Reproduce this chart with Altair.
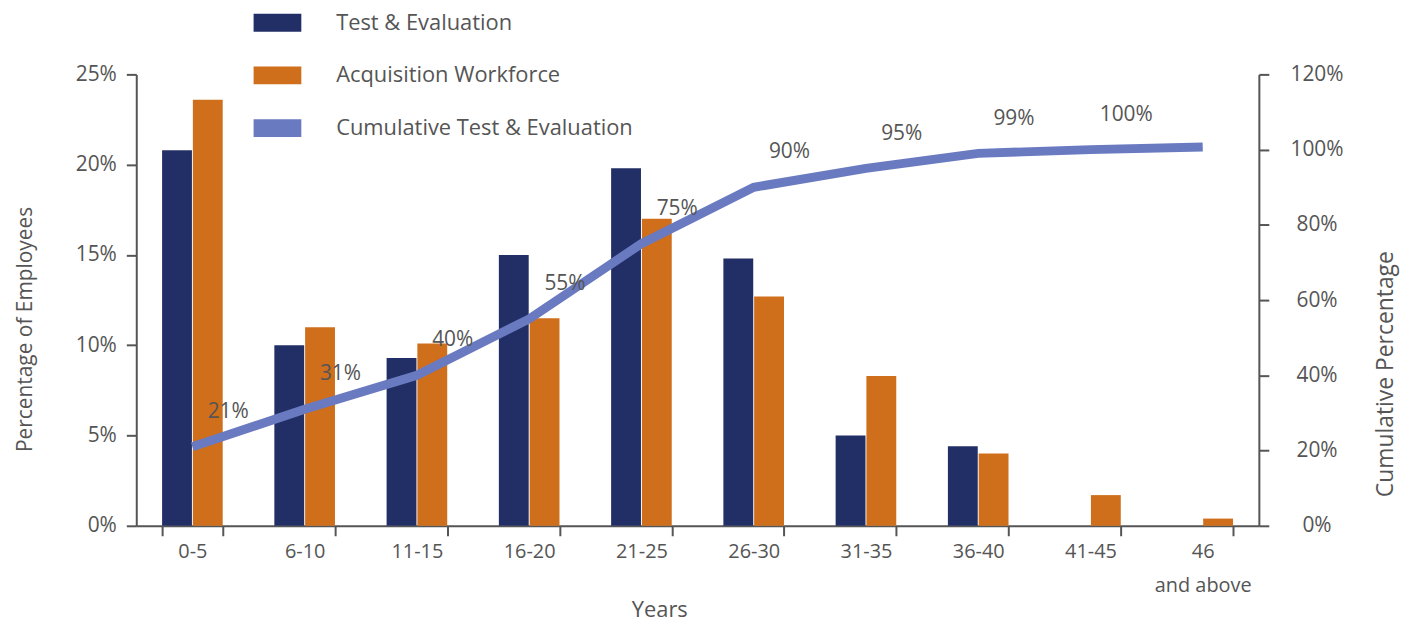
import altair as alt
import pandas as pd

categories = ["0-5", "6-10", "11-15", "16-20", "21-25", "26-30", "31-35", "36-40", "41-45", "46|and above"]
test_eval = [20.8, 10.0, 9.3, 15.0, 19.8, 14.8, 5.0, 4.4, 0.0, 0.0]
acq_workforce = [23.6, 11.0, 10.1, 11.5, 17.0, 12.7, 8.3, 4.0, 1.7, 0.4]
cumulative = [21, 31, 40, 55, 75, 90, 95, 99, 100, 100.7]
cum_labels = ["21%", "31%", "40%", "55%", "75%", "90%", "95%", "99%", "100%", ""]

series_names = ["Test & Evaluation", "Acquisition Workforce", "Cumulative Test & Evaluation"]
series_colors = ["#222f66", "#cf6f1b", "#6a7ac0"]

FONT = "Open Sans"
GREY = "#555555"

bars_df = pd.DataFrame(
    {"cat": categories * 2,
     "series": [series_names[0]] * len(categories) + [series_names[1]] * len(categories),
     "value": test_eval + acq_workforce}
)
line_df = pd.DataFrame({"cat": categories, "cum": cumulative, "label": cum_labels})

x_scale = alt.Scale(domain=categories, paddingInner=0.46, paddingOuter=0.23)
x_axis = alt.Axis(
    title="Years", titleFontSize=22, titleFont=FONT, titleColor=GREY, titleFontWeight="normal",
    titlePadding=4, titleX=526,
    labelFontSize=20, labelFont=FONT, labelColor=GREY, labelAngle=0, labelPadding=6,
    labelLineHeight=34, labelExpr="isString(datum.value) ? split(datum.value, '|') : ''",
    tickBand="extent", tickSize=10, tickColor=GREY, tickWidth=2,
    domainColor=GREY, domainWidth=2, grid=False,
)

bars = alt.Chart(bars_df).mark_bar().encode(
    x=alt.X("cat:N", scale=x_scale, axis=x_axis, sort=categories),
    xOffset=alt.XOffset("series:N", sort=series_names[:2],
                        scale=alt.Scale(domain=series_names[:2], paddingInner=0.03)),
    y=alt.Y("value:Q", scale=alt.Scale(domain=[0, 25]),
            axis=alt.Axis(title="Percentage of Employees", values=[0, 5, 10, 15, 20, 25],
                          labelExpr="datum.value + '%'", labelFontSize=21, labelFont=FONT,
                          labelColor=GREY, labelPadding=10, tickSize=10, tickColor=GREY,
                          tickWidth=2, domainColor=GREY, domainWidth=2, grid=False,
                          titleFontSize=21, titleFont=FONT, titleColor=GREY,
                          titleFontWeight="normal", titlePadding=40, titleY=256)),
    color=alt.Color("series:N",
                    scale=alt.Scale(domain=series_names, range=series_colors),
                    legend=alt.Legend(
                        title=None, orient="none", legendX=118, legendY=-76,
                        symbolType="M-1,-0.375L1,-0.375L1,0.375L-1,0.375Z",
                        symbolSize=2304, symbolStrokeWidth=0, symbolOpacity=1,
                        labelFontSize=22, labelFont=FONT, labelColor=GREY, labelLimit=0,
                        labelOffset=35, rowPadding=18, values=series_names)),
)

cum_y = alt.Y("cum:Q", scale=alt.Scale(domain=[0, 120]),
              axis=alt.Axis(title="Cumulative Percentage", orient="right",
                            values=[0, 20, 40, 60, 80, 100, 120],
                            labelExpr="datum.value + '%'", labelFontSize=21, labelFont=FONT,
                            labelColor=GREY, labelPadding=48, labelAlign="center",
                            tickSize=10, tickColor=GREY,
                            tickWidth=2, domainColor=GREY, domainWidth=2, grid=False,
                            titleFontSize=23, titleFont=FONT, titleColor=GREY,
                            titleFontWeight="normal", titleAngle=270, titleBaseline="bottom",
                            titlePadding=55, titleY=301))

line = alt.Chart(line_df).mark_line(color=series_colors[2], strokeWidth=9, strokeCap="butt",
                                    strokeJoin="miter").encode(
    x=alt.X("cat:N", scale=x_scale, sort=categories),
    y=cum_y,
)

labels = alt.Chart(line_df).mark_text(font=FONT, fontSize=21, color=GREY, dx=36, dy=-35).encode(
    x=alt.X("cat:N", scale=x_scale, sort=categories),
    y=cum_y,
    text="label:N",
)

chart = alt.layer(bars, line + labels).resolve_scale(y="independent").properties(
    width=1129, height=454,
    autosize=alt.AutoSizeParams(type="none"),
    padding={"left": 129, "top": 65, "right": 150, "bottom": 98},
).configure_view(stroke=None)

chart.save("out.html", embed_options={"renderer": "svg", "actions": False})
